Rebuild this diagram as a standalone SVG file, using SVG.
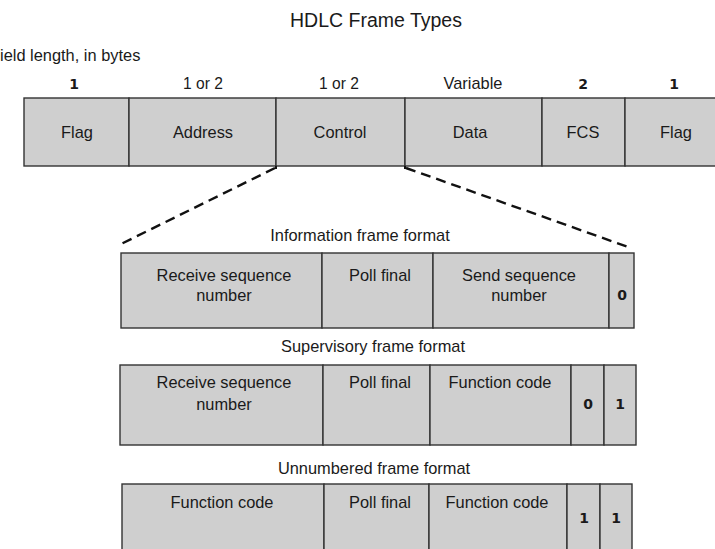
<svg xmlns="http://www.w3.org/2000/svg" width="715" height="549" viewBox="0 0 715 549">
  <style>
    .cell { fill: #cfcfcf; stroke: #333333; stroke-width: 1.4; }
    .lbl { font-family: "Liberation Sans", Arial, sans-serif; font-size: 16.4px; fill: #1a1a1a; text-anchor: middle; }
    .bit { font-family: "DejaVu Sans", "Liberation Sans", sans-serif; font-weight: bold; font-size: 14px; fill: #1a1a1a; text-anchor: middle; }
    .cap { font-family: "Liberation Sans", Arial, sans-serif; font-size: 16.4px; fill: #1a1a1a; text-anchor: middle; }
    .zoom { fill: none; stroke: #111111; stroke-width: 2.4; stroke-dasharray: 10 6; }
  </style>

  <!-- Heading -->
  <text x="376" y="27" class="cap" style="font-size:19.5px">HDLC Frame Types</text>
  <text x="0" y="61" class="cap" style="text-anchor:start">ield length, in bytes</text>

  <!-- Field lengths -->
  <g id="lengths">
    <text x="74" y="89" class="bit">1</text>
    <text x="203" y="89" class="lbl" style="font-size:15.6px">1 or 2</text>
    <text x="339" y="89" class="lbl" style="font-size:15.6px">1 or 2</text>
    <text x="473" y="89" class="lbl">Variable</text>
    <text x="583" y="89" class="bit">2</text>
    <text x="674" y="89" class="bit">1</text>
  </g>

  <!-- HDLC frame -->
  <g id="frame">
    <g id="f-flag1"><rect class="cell" x="24" y="98" width="105" height="68"/><text x="77" y="138" class="lbl">Flag</text></g>
    <g id="f-address"><rect class="cell" x="129" y="98" width="147" height="68"/><text x="203" y="138" class="lbl">Address</text></g>
    <g id="f-control"><rect class="cell" x="276" y="98" width="129" height="68"/><text x="340" y="138" class="lbl">Control</text></g>
    <g id="f-data"><rect class="cell" x="405" y="98" width="137" height="68"/><text x="470" y="138" class="lbl">Data</text></g>
    <g id="f-fcs"><rect class="cell" x="542" y="98" width="83" height="68"/><text x="583" y="138" class="lbl">FCS</text></g>
    <g id="f-flag2"><rect class="cell" x="625" y="98" width="100" height="68"/><text x="676" y="138" class="lbl">Flag</text></g>
  </g>

  <!-- Expansion of the control field -->
  <g id="connectors">
    <line x1="276" y1="166" x2="276" y2="169" stroke="#111111" stroke-width="2"/>
    <line class="zoom" x1="275" y1="168" x2="121" y2="244"/>
    <line x1="405" y1="166" x2="405" y2="169" stroke="#111111" stroke-width="2"/>
    <line class="zoom" x1="406" y1="168" x2="631" y2="248"/>
  </g>

  <!-- Information frame -->
  <g id="info">
    <text x="360" y="241" class="cap">Information frame format</text>
    <g id="i-nr"><rect class="cell" x="121" y="253" width="201" height="75"/><text x="224" y="281" class="lbl">Receive sequence</text><text x="224" y="301" class="lbl">number</text></g>
    <g id="i-pf"><rect class="cell" x="322" y="253" width="111" height="75"/><text x="380" y="281" class="lbl">Poll final</text></g>
    <g id="i-ns"><rect class="cell" x="433" y="253" width="176" height="75"/><text x="519" y="281" class="lbl">Send sequence</text><text x="519" y="301" class="lbl">number</text></g>
    <g id="i-b0"><rect class="cell" x="609" y="253" width="25" height="75"/><text x="622" y="300" class="bit">0</text></g>
  </g>

  <!-- Supervisory frame -->
  <g id="super">
    <text x="373" y="352" class="cap">Supervisory frame format</text>
    <g id="s-nr"><rect class="cell" x="120" y="365" width="203" height="80"/><text x="224" y="388" class="lbl">Receive sequence</text><text x="224" y="410" class="lbl">number</text></g>
    <g id="s-pf"><rect class="cell" x="323" y="365" width="107" height="80"/><text x="380" y="388" class="lbl">Poll final</text></g>
    <g id="s-fc"><rect class="cell" x="430" y="365" width="141" height="80"/><text x="500" y="388" class="lbl">Function code</text></g>
    <g id="s-b0"><rect class="cell" x="571" y="365" width="33" height="80"/><text x="588" y="409" class="bit">0</text></g>
    <g id="s-b1"><rect class="cell" x="604" y="365" width="32" height="80"/><text x="620" y="409" class="bit">1</text></g>
  </g>

  <!-- Unnumbered frame -->
  <g id="unnum">
    <text x="374" y="474" class="cap">Unnumbered frame format</text>
    <g id="u-fc1"><rect class="cell" x="122" y="484" width="202" height="80"/><text x="222" y="508" class="lbl">Function code</text></g>
    <g id="u-pf"><rect class="cell" x="324" y="484" width="105" height="80"/><text x="380" y="508" class="lbl">Poll final</text></g>
    <g id="u-fc2"><rect class="cell" x="429" y="484" width="138" height="80"/><text x="497" y="508" class="lbl">Function code</text></g>
    <g id="u-b1a"><rect class="cell" x="567" y="484" width="33" height="80"/><text x="584" y="523" class="bit">1</text></g>
    <g id="u-b1b"><rect class="cell" x="600" y="484" width="32" height="80"/><text x="616" y="523" class="bit">1</text></g>
  </g>
</svg>
